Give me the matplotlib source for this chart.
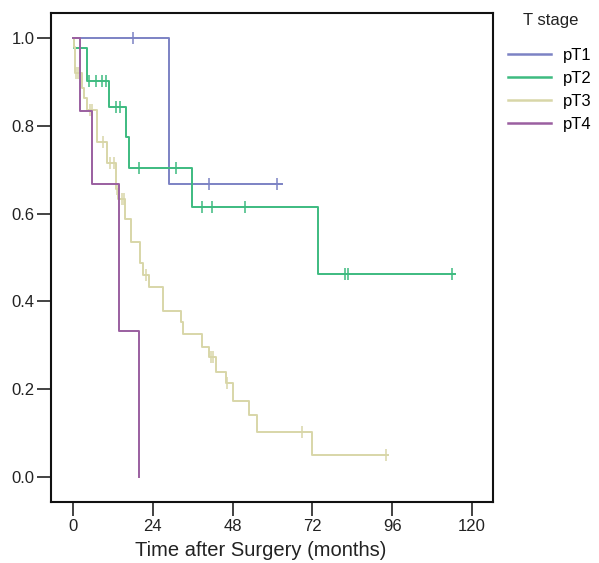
import numpy as np
from matplotlib import pyplot as plt

plt.rcParams['font.family'] = ['Liberation Sans', 'DejaVu Sans']

# Kaplan-Meier steps (months, survival)
groups = ['pT1', 'pT2', 'pT3', 'pT4']

pT1_times = [0, 29]
pT1_surv = [1.0, 0.667]
pT1_end = 63
pT1_cens = [18, 41, 61.5]

pT2_times = [0, 0.4, 4.2, 10.8, 16, 17, 35.8, 73.7]
pT2_surv = [1.0, 0.977, 0.902, 0.843, 0.774, 0.704, 0.615, 0.462]
pT2_end = 115
pT2_cens = [4.8, 6.9, 8.7, 10, 13, 14, 20, 31, 38.8, 41.8, 51.7, 81.8, 82.7, 114]

pT3_times = [0, 0.3, 0.6, 2.7, 3.3, 4.2, 7.2, 10.2, 13, 13.5, 15.6, 17.4, 20.2,
             21, 22.8, 27.2, 32.4, 33, 38.8, 41, 43, 46, 48, 53, 55.3, 71.9]
pT3_surv = [1.0, 0.98, 0.92, 0.886, 0.863, 0.836, 0.763, 0.715, 0.656, 0.633,
            0.588, 0.535, 0.487, 0.46, 0.433, 0.378, 0.353, 0.326, 0.296, 0.273,
            0.239, 0.214, 0.173, 0.141, 0.102, 0.05]
pT3_end = 94.7
pT3_cens = [1, 1.6, 5, 5.8, 9, 11, 12.3, 13.2, 14.7, 15.3, 22, 41.5, 42.1, 46.2, 68.9, 94]

pT4_times = [0, 2, 5.7, 13.8, 20]
pT4_surv = [1.0, 0.834, 0.667, 0.333, 0.0]
pT4_end = 20
pT4_cens = []

colors = ['#7c82c4', '#3dbb80', '#d8d6a8', '#9a5fa0']

data = [
    (pT1_times, pT1_surv, pT1_end, pT1_cens),
    (pT2_times, pT2_surv, pT2_end, pT2_cens),
    (pT3_times, pT3_surv, pT3_end, pT3_cens),
    (pT4_times, pT4_surv, pT4_end, pT4_cens),
]

fig = plt.figure(figsize=(5.99, 5.63), dpi=100)
ax = fig.add_axes([51 / 599, 1 - 502 / 563, (493 - 51) / 599, (502 - 13) / 563])

for name, col, (t, s, end, cens) in zip(groups, colors, data):
    tt = list(t) + [end]
    ss = list(s) + [s[-1]]
    ax.step(tt, ss, where='post', color=col, lw=1.4, label=name)
    if cens:
        # censor marks sit on the curve at their time
        idx = np.searchsorted(t, cens, side='right') - 1
        cy = np.array(s)[idx]
        ax.plot(cens, cy, ls='none', marker='|', ms=9, mew=1.1, color=col)

ax.set_xlim(-6.6, 126.3)
ax.set_ylim(-0.057, 1.057)
ax.set_xticks([0, 24, 48, 72, 96, 120])
ax.set_yticks([0.0, 0.2, 0.4, 0.6, 0.8, 1.0])
ax.set_yticklabels(['0.0', '0.2', '0.4', '0.6', '0.8', '1.0'])
ax.tick_params(direction='out', length=10, width=1.2, labelsize=12,
               colors='#222222', pad=2)
for sp in ax.spines.values():
    sp.set_linewidth(1.5)
    sp.set_color('#111111')
ax.set_xlabel('Time after Surgery (months)', fontsize=14.5, color='#222222')
ax.xaxis.set_label_coords((261 - 51) / 442, -0.08)

fig.text(551 / 599, 1 - 20 / 563, 'T stage', ha='center', va='center',
         fontsize=12, color='#222222')
leg = fig.legend(loc='upper left', bbox_to_anchor=(508 / 599, 1 - 48 / 563),
                 frameon=False, fontsize=12, handlelength=2.6, handletextpad=0.7,
                 labelspacing=0.47, borderaxespad=0, borderpad=0)
for lh in leg.get_lines():
    lh.set_linewidth(1.8)

fig.savefig('out.png', dpi=100)
